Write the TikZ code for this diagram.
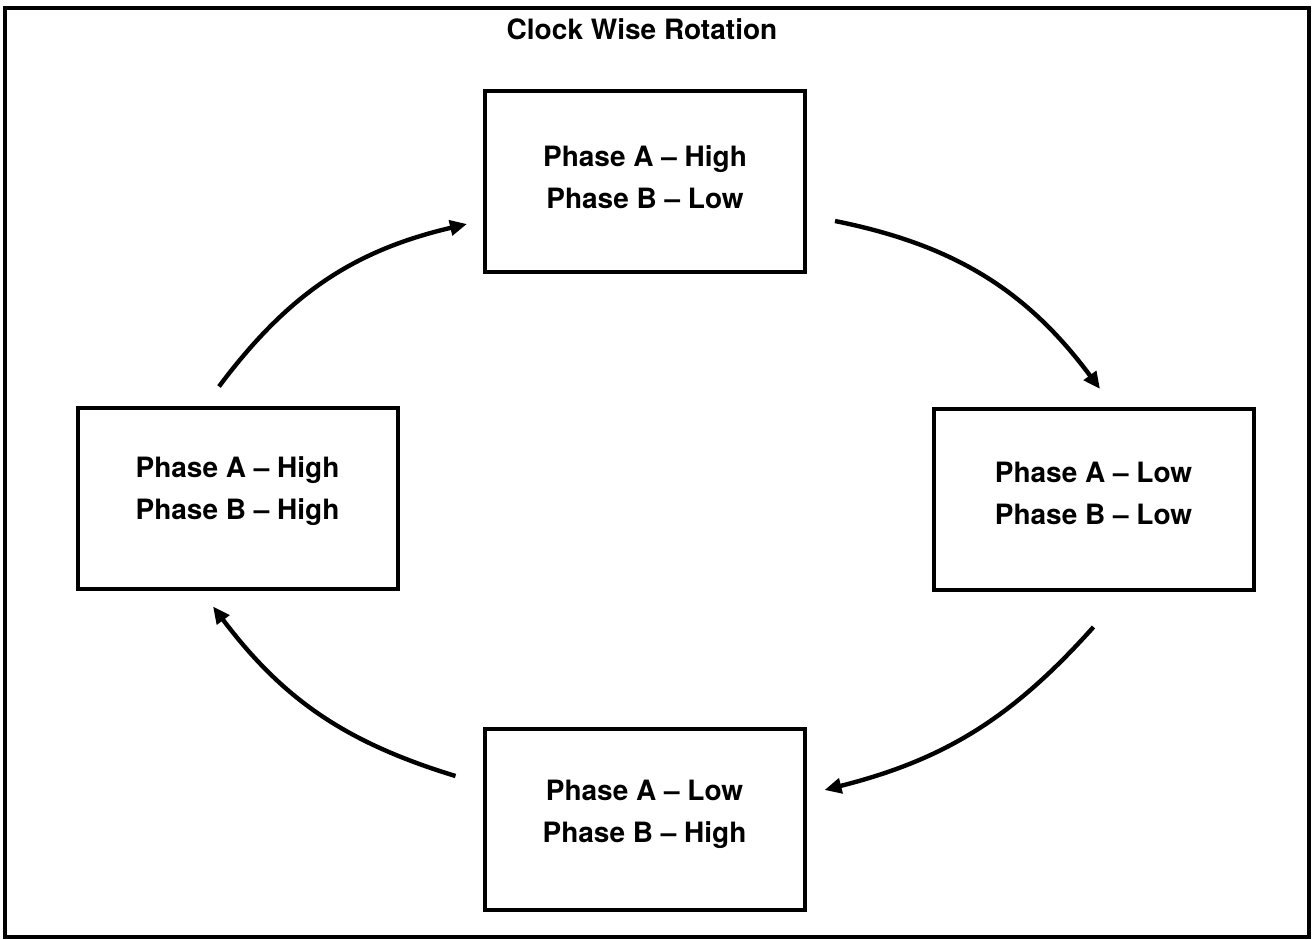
\documentclass[tikz,border=0pt]{standalone}
\usepackage{fontspec}
\setmainfont{TeX Gyre Heros}
\usetikzlibrary{arrows.meta,calc}
\tikzset{
  frame/.style={line width=2pt},
  statebox/.style={draw, line width=2pt, minimum width=160pt, minimum height=90.5pt, inner sep=0pt},
  statetext/.style={font=\fontsize{14pt}{21pt}\selectfont\bfseries, align=center, inner sep=0pt},
  titletext/.style={font=\fontsize{14pt}{17pt}\selectfont\bfseries, inner sep=0pt},
  flow/.style={line width=2.2pt, -{Triangle[length=8.5pt,width=7.5pt]}}
}
\begin{document}
\begin{tikzpicture}[x=0.5pt,y=-0.5pt]
\useasboundingbox (0,0) rectangle (1312,940);
\draw[frame] (5,8) rectangle (1309,937);
\node[titletext] (title) at (642,29) {Clock Wise Rotation};

\node[statebox] (T) at (645,181.5) {};
\node[statebox] (L) at (237.5,499) {};
\node[statebox] (R) at (1093.5,499.5) {};
\node[statebox] (B) at (644.5,819) {};

\node[statetext] (Tt) at ($(T.center)+(0,-4)$) {Phase A -- High\\Phase B -- Low};
\node[statetext] (Lt) at ($(L.center)+(0,-8)$) {Phase A -- High\\Phase B -- High};
\node[statetext] (Rt) at ($(R.center)+(0,-6)$) {Phase A -- Low\\Phase B -- Low};
\node[statetext] (Bt) at ($(B.center)+(0,-5)$) {Phase A -- Low\\Phase B -- High};

\draw[flow] ($(L.north)+(-18.5,-20)$) to[bend left=20] ($(T.west)+(-16,42.5)$);
\draw[flow] ($(T.east)+(28,39.5)$) to[bend left=21] ($(R.north)+(6.5,-18)$);
\draw[flow] ($(R.south)+(0,35)$) to[bend left=17] ($(B.east)+(18,-29)$);
\draw[flow] ($(B.west)+(-27,-43)$) to[bend left=18] ($(L.south)+(-24.5,15)$);
\end{tikzpicture}
\end{document}
